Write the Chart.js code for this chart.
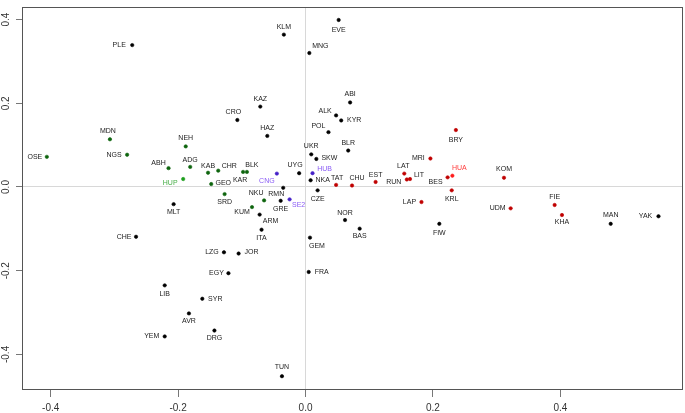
<!DOCTYPE html>
<html>
<head>
<meta charset="utf-8">
<script src="https://cdn.jsdelivr.net/npm/chart.js@4"></script>
<style>
html,body{margin:0;padding:0;background:#fff;}
#wrap{width:685px;height:413px;}
</style>
</head>
<body>
<div id="wrap"><canvas id="c" width="685" height="413"></canvas></div>
<script>
// ---- data ----
const names = ["PLE","KLM","EVE","MNG","ABI","KAZ","CRO","ALK","KYR","HAZ","POL","BLR","BRY","MDN","NEH","NGS","OSE","ABH","ADG","KAB","CHR","BLK","KAR","UKR","SKW","UYG","HUB","CNG","NKA","MRI","TAT","CHU","EST","LAT","RUN","LIT","BES","HUA","KOM","HUP","GEO","SRD","MLT","CHE","LZG","JOR","RMN","GRE","SE2","CZE","NKU","KUM","ARM","ITA","NOR","BAS","GEM","LAP","KRL","FIW","FIE","UDM","KHA","MAN","YAK","FRA","TUN","EGY","LIB","SYR","AVR","YEM","DRG"];
const xValues = [-0.272,-0.034,0.052,0.006,0.070,-0.071,-0.107,0.048,0.056,-0.060,0.036,0.067,0.236,-0.307,-0.188,-0.280,-0.406,-0.215,-0.181,-0.153,-0.137,-0.092,-0.098,0.009,0.017,-0.010,0.011,-0.045,0.008,0.196,0.048,0.073,0.110,0.155,0.159,0.164,0.223,0.2305,0.3115,-0.192,-0.148,-0.127,-0.207,-0.266,-0.128,-0.105,-0.035,-0.039,-0.025,0.019,-0.065,-0.084,-0.072,-0.069,0.062,0.085,0.007,0.182,0.2295,0.210,0.391,0.322,0.4025,0.479,0.554,0.005,-0.037,-0.121,-0.221,-0.162,-0.183,-0.221,-0.143];
const yValues = [0.339,0.364,0.399,0.320,0.202,0.192,0.160,0.171,0.159,0.122,0.131,0.087,0.136,0.114,0.097,0.077,0.072,0.045,0.048,0.034,0.039,0.036,0.036,0.078,0.067,0.033,0.033,0.032,0.016,0.068,0.005,0.0035,0.012,0.032,0.018,0.019,0.023,0.027,0.022,0.019,0.007,-0.017,-0.041,-0.119,-0.156,-0.159,-0.002,-0.033,-0.0295,-0.008,-0.032,-0.048,-0.066,-0.102,-0.079,-0.0995,-0.121,-0.036,-0.008,-0.088,-0.043,-0.051,-0.067,-0.088,-0.070,-0.203,-0.452,-0.206,-0.235,-0.267,-0.302,-0.357,-0.343];
// group of each point: k = other, g = green, G = HUP, p = purple, r = red, R = HUA
const groups = ["k","k","k","k","k","k","k","k","k","k","k","k","r","g","g","g","g","g","g","g","g","g","g","k","k","k","p","p","k","r","r","r","r","r","r","r","r","R","r","G","g","g","k","k","k","k","k","k","p","k","g","g","k","k","k","k","k","r","r","k","r","r","r","k","k","k","k","k","k","k","k","k","k"];
const xTickValues = [-0.4,-0.2,0.0,0.2,0.4];
const yTickValues = [-0.4,-0.2,0.0,0.2,0.4];
const xTickLabels = ["-0.4","-0.2","0.0","0.2","0.4"];
const yTickLabels = ["-0.4","-0.2","0.0","0.2","0.4"];

// ---- layout / style (not data) ----
const labelDx = [-13,0,0,11,0,0,-4,-11,13,0,-10,0,0,-2,0,-13,-12,-10,0,0,11,5,-3,0,13,-4,12,-10,12,-12,1,5,0,-1,-13,9,-12,7,0,-13,12,0,0,-12,-12,13,-7,0,9,0,-8,-10,11,0,0,0,7,-12,0,0,0,-13,0,0,-13,13,0,-12,0,13,0,-13,0];
const labelDy = [0,-8,10,-7,-8,-8,-8,-4,0,-8,-6,-8,10,-8,-8,0,0,-5,-7,-7,-5,-7,8,-8,-1,-8,-4,7,0,0,-7,-7,-7,-8,3,-4,5,-8,-9,4,-1,8,8,0,0,-1,6,8,6,9,-7,5,6,8,-7,7,8,0,9,9,-8,0,7,-9,0,0,-9,0,9,0,8,0,8];
const groupStyle = {
  k: {dot:"#000000", text:"#222222"},
  g: {dot:"#0d640d", text:"#222222"},
  G: {dot:"#1c9e1c", text:"#46ad46"},
  p: {dot:"#4420c8", text:"#8a5cf5"},
  r: {dot:"#c00000", text:"#222222"},
  R: {dot:"#ff1c1c", text:"#ff3a3a"}
};
const groupOrder = ["k","g","G","p","r","R"];

const datasets = groupOrder.map(g => {
  const idx = [];
  groups.forEach((gg, i) => { if (gg === g) idx.push(i); });
  return {
    label: g,
    data: idx.map(i => ({x: xValues[i], y: yValues[i], name: names[i], dx: labelDx[i], dy: labelDy[i]})),
    backgroundColor: groupStyle[g].dot,
    borderColor: groupStyle[g].dot,
    borderWidth: 0.6,
    pointRadius: 1.7,
    pointHoverRadius: 1.7,
    textColor: groupStyle[g].text
  };
});

const labelPlugin = {
  id: "pointLabels",
  afterDatasetsDraw(chart) {
    const ctx = chart.ctx;
    ctx.save();
    ctx.font = "7px 'Liberation Sans', Arial, sans-serif";
    ctx.textAlign = "center";
    ctx.textBaseline = "middle";
    chart.data.datasets.forEach((ds, di) => {
      const meta = chart.getDatasetMeta(di);
      ctx.fillStyle = ds.textColor;
      meta.data.forEach((el, j) => {
        const d = ds.data[j];
        ctx.fillText(d.name, el.x + d.dx, el.y + d.dy);
      });
    });
    ctx.restore();
  }
};

const boxPlugin = {
  id: "frameBox",
  afterDraw(chart) {
    const a = chart.chartArea;
    const ctx = chart.ctx;
    ctx.save();
    ctx.strokeStyle = "#555555";
    ctx.lineWidth = 1;
    ctx.strokeRect(Math.round(a.left) + 0.5, Math.round(a.top) + 0.5, Math.round(a.right - a.left) - 1, Math.round(a.bottom - a.top) - 1);
    ctx.restore();
  }
};

const zeroGrid = c => (c.tick && Math.abs(c.tick.value) < 1e-9) ? "#d8d8d8" : "rgba(0,0,0,0)";

new Chart(document.getElementById("c"), {
  type: "scatter",
  data: {datasets},
  options: {
    responsive: false,
    animation: false,
    events: [],
    layout: {padding: {top: 2, right: 2, left: 0, bottom: 0}},
    plugins: {legend: {display: false}, tooltip: {enabled: false}},
    scales: {
      x: {
        type: "linear",
        min: -0.445, max: 0.592,
        afterBuildTicks: s => { s.ticks = xTickValues.map(v => ({value: v})); },
        afterFit: s => { s.height = 23; },
        border: {display: false},
        grid: {color: zeroGrid, tickColor: "#777777", tickLength: 7, lineWidth: 1},
        ticks: {
          padding: 5,
          color: "#333333",
          font: {family: "'Liberation Sans', Arial, sans-serif", size: 10},
          maxRotation: 0, minRotation: 0,
          callback: (v) => { const k = xTickValues.findIndex(t => Math.abs(t - v) < 1e-9); return k >= 0 ? xTickLabels[k] : ""; }
        }
      },
      y: {
        type: "linear",
        min: -0.485, max: 0.430,
        afterBuildTicks: s => { s.ticks = yTickValues.map(v => ({value: v})); },
        afterFit: s => { s.width = 22; },
        border: {display: false},
        grid: {color: zeroGrid, tickColor: "#777777", tickLength: 6, lineWidth: 1},
        ticks: {
          padding: 1,
          crossAlign: "center",
          minRotation: 90, maxRotation: 90,
          color: "#333333",
          font: {family: "'Liberation Sans', Arial, sans-serif", size: 10},
          callback: (v) => { const k = yTickValues.findIndex(t => Math.abs(t - v) < 1e-9); return k >= 0 ? yTickLabels[k] : ""; }
        }
      }
    }
  },
  plugins: [labelPlugin, boxPlugin]
});
</script>
</body>
</html>
